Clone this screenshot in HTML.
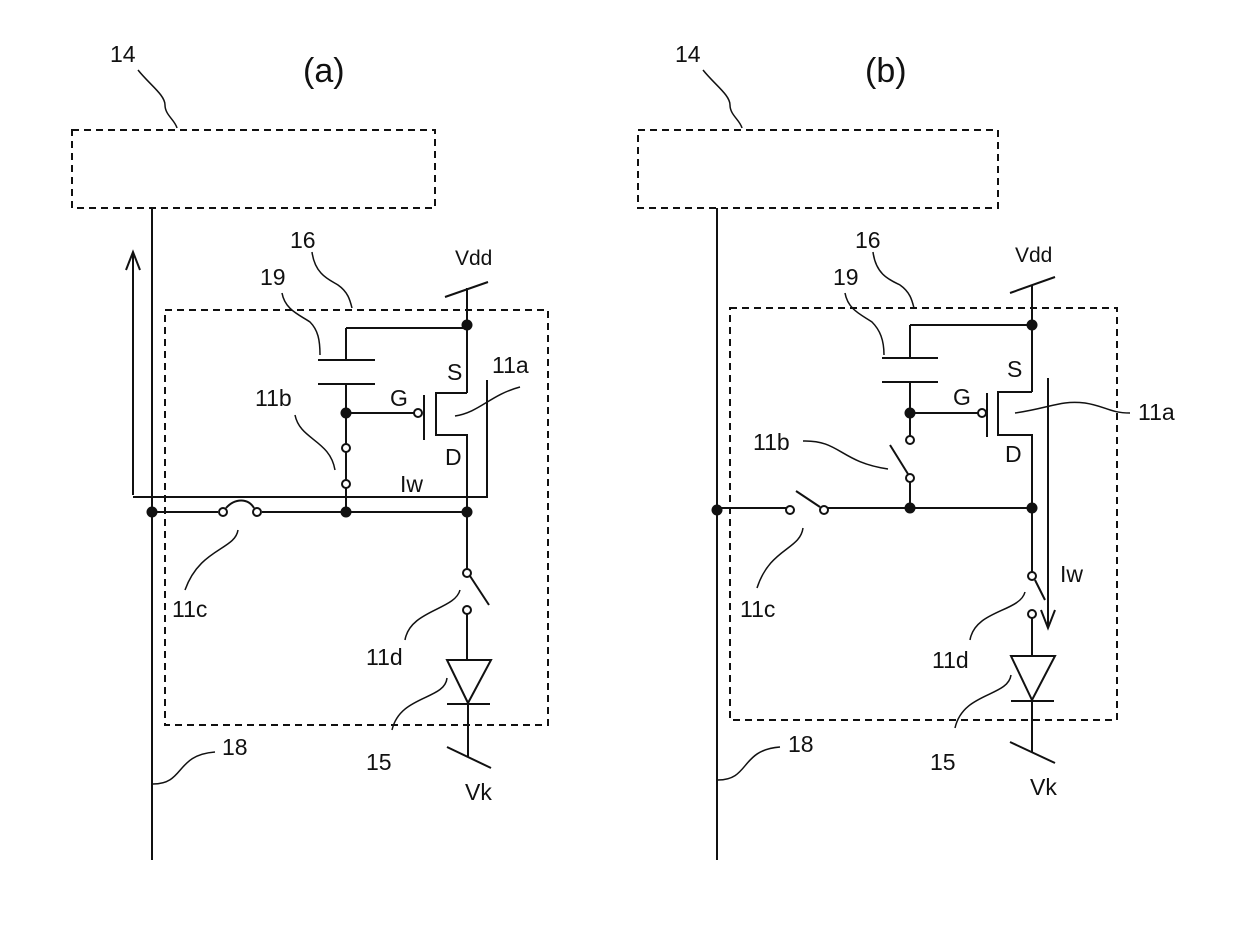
<!DOCTYPE html>
<html><head><meta charset="utf-8"><style>body{margin:0;background:#fff}svg{display:block}text{font-family:"Liberation Sans",sans-serif;fill:#111}</style></head><body>
<svg width="1240" height="925" viewBox="0 0 1240 925" xmlns="http://www.w3.org/2000/svg" stroke="#111" stroke-width="2" fill="none">
<defs>
<g id="dot"><circle r="5.5" fill="#111" stroke="none"/></g>
</defs>
<!-- PANEL A -->
<g>
<text x="303" y="82" font-size="34" stroke="none">(a)</text>
<text x="110" y="62" font-size="23" stroke="none">14</text>
<path d="M138 70 C150 85 165 95 165 105 C165 115 175 120 177 128" stroke-width="1.5"/>
<rect x="72" y="130" width="363" height="78" stroke-dasharray="7,5"/>
<line x1="152" y1="208" x2="152" y2="860"/>
<path d="M133 495 V252 M126 270 L133 252 L140 270"/>
<path d="M133 497 H487 V380"/>
<rect x="165" y="310" width="383" height="415" stroke-dasharray="7,5"/>
<text x="290" y="248" font-size="23" stroke="none">16</text>
<path d="M312 252 C315 275 330 280 338 285 C348 292 350 300 352 308" stroke-width="1.5"/>
<text x="260" y="285" font-size="23" stroke="none">19</text>
<path d="M282 293 C285 310 300 315 310 322 C318 330 320 340 320 355" stroke-width="1.5"/>
<text x="455" y="265" font-size="21" stroke="none" font-family="Liberation Serif">Vdd</text>
<line x1="445" y1="297" x2="488" y2="282"/>
<line x1="467" y1="288" x2="467" y2="393"/>
<path d="M346 328 H467"/>
<path d="M346 328 V360 M318 360 H375 M318 384 H375 M346 384 V512"/>
<path d="M467 393 H436 V435 H467 V512"/>
<path d="M346 413 H414"/>
<circle cx="418" cy="413" r="4" fill="#fff"/>
<line x1="424" y1="395" x2="424" y2="440"/>
<text x="447" y="380" font-size="23" stroke="none">S</text>
<text x="445" y="465" font-size="23" stroke="none">D</text>
<text x="390" y="406" font-size="23" stroke="none">G</text>
<text x="492" y="373" font-size="23" stroke="none">11a</text>
<path d="M455 416 C480 412 490 395 520 387" stroke-width="1.5"/>
<text x="255" y="406" font-size="23" stroke="none">11b</text>
<path d="M295 415 C300 440 330 440 335 470" stroke-width="1.5"/>
<circle cx="346" cy="448" r="4" fill="#fff"/><circle cx="346" cy="484" r="4" fill="#fff"/>
<text x="400" y="492" font-size="23" stroke="none" font-family="Liberation Serif">Iw</text>
<path d="M152 512 H218 M262 512 H467"/>
<circle cx="223" cy="512" r="4" fill="#fff"/><circle cx="257" cy="512" r="4" fill="#fff"/>
<path d="M226 508 C235 498 248 498 254 508"/>
<use href="#dot" x="152" y="512"/><use href="#dot" x="346" y="512"/><use href="#dot" x="467" y="512"/>
<use href="#dot" x="346" y="413"/><use href="#dot" x="467" y="325"/>
<path d="M238 530 C235 550 200 548 185 590" stroke-width="1.5"/>
<text x="172" y="617" font-size="23" stroke="none">11c</text>
<path d="M467 512 V569 M470 576 L489 605"/>
<circle cx="467" cy="573" r="4" fill="#fff"/><circle cx="467" cy="610" r="4" fill="#fff"/>
<path d="M467 614 V660"/>
<path d="M447 660 H491 L468 703 Z M447 704 H490 M468 704 V757"/>
<line x1="447" y1="747" x2="491" y2="768"/>
<text x="465" y="800" font-size="23" stroke="none" font-family="Liberation Serif">Vk</text>
<path d="M460 590 C455 610 410 610 405 640" stroke-width="1.5"/>
<text x="366" y="665" font-size="23" stroke="none">11d</text>
<path d="M447 678 C445 700 400 695 392 730" stroke-width="1.5"/>
<text x="366" y="770" font-size="23" stroke="none">15</text>
<path d="M153 784 C185 784 175 755 215 752" stroke-width="1.5"/>
<text x="222" y="755" font-size="23" stroke="none">18</text>
</g>
<!-- PANEL B -->
<g>
<text x="865" y="82" font-size="34" stroke="none">(b)</text>
<text x="675" y="62" font-size="23" stroke="none">14</text>
<path d="M703 70 C715 85 730 95 730 105 C730 115 740 120 742 128" stroke-width="1.5"/>
<rect x="638" y="130" width="360" height="78" stroke-dasharray="7,5"/>
<line x1="717" y1="208" x2="717" y2="860"/>
<rect x="730" y="308" width="387" height="412" stroke-dasharray="7,5"/>
<text x="855" y="248" font-size="23" stroke="none">16</text>
<path d="M873 252 C876 275 890 280 900 285 C910 292 912 300 914 308" stroke-width="1.5"/>
<text x="833" y="285" font-size="23" stroke="none">19</text>
<path d="M845 293 C848 310 862 315 872 322 C880 330 884 340 884 355" stroke-width="1.5"/>
<text x="1015" y="262" font-size="21" stroke="none" font-family="Liberation Serif">Vdd</text>
<line x1="1010" y1="293" x2="1055" y2="277"/>
<line x1="1032" y1="285" x2="1032" y2="392"/>
<path d="M910 325 H1032"/>
<path d="M910 325 V358 M882 358 H938 M882 382 H938 M910 382 V436"/>
<path d="M1032 392 H998 V435 H1032 V570"/>
<path d="M910 413 H978"/>
<circle cx="982" cy="413" r="4" fill="#fff"/>
<line x1="987" y1="393" x2="987" y2="437"/>
<text x="1007" y="377" font-size="23" stroke="none">S</text>
<text x="1005" y="462" font-size="23" stroke="none">D</text>
<text x="953" y="405" font-size="23" stroke="none">G</text>
<path d="M1048 378 V628 M1041 610 L1048 628 L1055 610"/>
<path d="M1015 413 C1050 408 1060 400 1085 403 C1105 406 1110 413 1130 413" stroke-width="1.5"/>
<text x="1138" y="420" font-size="23" stroke="none">11a</text>
<text x="753" y="450" font-size="23" stroke="none">11b</text>
<path d="M803 441 C840 440 840 462 888 469" stroke-width="1.5"/>
<circle cx="910" cy="440" r="4" fill="#fff"/><circle cx="910" cy="478" r="4" fill="#fff"/>
<path d="M908 474 L890 445 M910 482 V508"/>
<text x="1060" y="582" font-size="23" stroke="none" font-family="Liberation Serif">Iw</text>
<path d="M717 508 H786 M828 508 H1032"/>
<circle cx="790" cy="510" r="4" fill="#fff"/><circle cx="824" cy="510" r="4" fill="#fff"/>
<path d="M820 507 L796 491"/>
<use href="#dot" x="717" y="510"/><use href="#dot" x="910" y="508"/><use href="#dot" x="1032" y="508"/>
<use href="#dot" x="910" y="413"/><use href="#dot" x="1032" y="325"/>
<path d="M803 528 C800 550 770 548 757 588" stroke-width="1.5"/>
<text x="740" y="617" font-size="23" stroke="none">11c</text>
<path d="M1032 574 V570 M1035 580 L1045 600"/>
<circle cx="1032" cy="576" r="4" fill="#fff"/><circle cx="1032" cy="614" r="4" fill="#fff"/>
<path d="M1032 618 V656"/>
<path d="M1011 656 H1055 L1032 700 Z M1011 701 H1054 M1032 701 V752"/>
<line x1="1010" y1="742" x2="1055" y2="763"/>
<text x="1030" y="795" font-size="23" stroke="none" font-family="Liberation Serif">Vk</text>
<path d="M1025 592 C1020 612 975 610 970 640" stroke-width="1.5"/>
<text x="932" y="668" font-size="23" stroke="none">11d</text>
<path d="M1011 675 C1008 697 963 692 955 728" stroke-width="1.5"/>
<text x="930" y="770" font-size="23" stroke="none">15</text>
<path d="M718 780 C750 780 740 750 780 747" stroke-width="1.5"/>
<text x="788" y="752" font-size="23" stroke="none">18</text>
</g>
</svg>
</body></html>
